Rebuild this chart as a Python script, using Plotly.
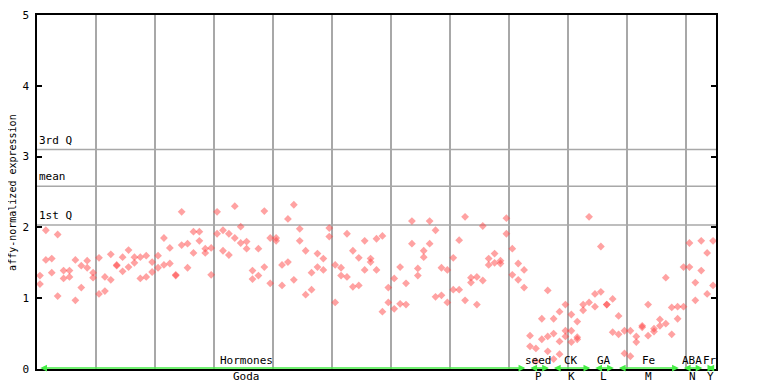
import plotly.graph_objects as go

# ---- data ----
rep_a = [1.32, 1.96, 1.56, 1.90, 1.39, 1.39, 1.54, 1.46, 1.53, 1.36,
         1.57, 1.30, 1.62, 1.46, 1.58, 1.68, 1.58, 1.58, 1.60, 1.51,
         1.60, 1.85, 1.71, 1.32, 2.22, 1.77, 1.94, 1.94, 1.70, 1.71,
         2.22, 1.96, 1.91, 2.30, 2.01, 1.80, 1.39, 1.70, 2.23, 1.85,
         1.85, 1.47, 2.12, 2.32, 1.98, 1.67, 1.36, 1.63, 1.56, 1.99,
         1.47, 1.43, 1.91, 1.67, 1.57, 1.81, 1.56, 1.84, 1.88, 1.15,
         1.28, 1.44, 1.21, 2.09, 1.42, 1.67, 2.09, 1.96, 1.43, 1.40,
         1.57, 1.82, 2.15, 1.29, 1.30, 2.02, 1.56, 1.63, 1.49, 2.13,
         1.70, 1.49, 1.40, 0.47, 0.29, 0.71, 1.11, 0.71, 0.81, 0.91,
         0.77, 0.67, 0.91, 2.15, 1.06, 1.73, 0.91, 0.99, 0.75, 0.54,
         0.54, 0.46, 0.61, 0.91, 0.57, 0.70, 1.29, 0.87, 0.88, 1.44,
         1.78, 1.22, 1.81, 1.64, 1.81]
rep_b = [1.20, 1.54, 1.36, 1.03, 1.28, 1.30, 0.97, 1.15, 1.43, 1.29,
         1.06, 1.10, 1.26, 1.47, 1.38, 1.44, 1.50, 1.28, 1.30, 1.37,
         1.43, 1.47, 1.49, 1.33, 1.75, 1.43, 1.64, 1.81, 1.64, 1.33,
         1.91, 1.67, 1.61, 1.85, 1.78, 1.70, 1.27, 1.32, 1.44, 1.21,
         1.81, 1.18, 1.51, 1.26, 1.81, 1.05, 1.12, 1.44, 1.40, 1.87,
         0.94, 1.32, 1.30, 1.16, 1.18, 1.40, 1.51, 1.40, 0.81, 0.94,
         0.85, 0.92, 0.91, 1.77, 1.32, 1.58, 1.77, 1.02, 1.04, 0.94,
         1.12, 1.12, 0.97, 1.22, 0.91, 1.25, 1.47, 1.50, 1.53, 1.91,
         1.33, 1.26, 1.15, 0.32, 0.11, 0.42, 0.46, 0.50, 0.39, 0.54,
         0.54, 0.45, 0.83, 0.94, 0.88, 1.09, 0.91, 0.52, 0.49, 0.22,
         0.18, 0.38, 0.59, 0.47, 0.53, 0.61, 0.64, 0.49, 0.71, 0.88,
         1.44, 0.97, 1.39, 1.06, 1.18]
rep_c_values = {86: 0.25, 87: 0.14, 88: 0.21, 89: 0.46, 90: 0.38, 91: 0.42}

n_samples = len(rep_a)
rep_c = [rep_c_values.get(i) for i in range(n_samples)]

q1_value = 2.035
mean_value = 2.58
q3_value = 3.10
ref_lines = [(q3_value, "3rd Q"), (mean_value, "mean"), (q1_value, "1st Q")]

group_names = ["Hormones", "seed", "CK", "GA", "Fe", "ABA", "Fr"]
group_codes = ["Goda", "P", "K", "L", "M", "N", "Y"]
group_start = [0, 83, 87, 94, 98, 109, 113]
group_end = [83, 87, 94, 98, 109, 113, 115]
group_label_at = [35.5, 85, 90.5, 96, 103.5, 111, 114]

y_ticks = [0, 1, 2, 3, 4, 5]

# ---- figure ----
FONT = "DejaVu Sans Mono"
marker_color = "rgba(255,70,70,0.5)"
x_pos = [i + 0.5 for i in range(n_samples)]

fig = go.Figure()
for series in (rep_a, rep_b, rep_c):
    fig.add_trace(go.Scatter(
        x=x_pos, y=series, mode="markers",
        marker=dict(symbol="diamond", size=6, color=marker_color, line=dict(width=0)),
        showlegend=False, hoverinfo="skip", cliponaxis=False))

shapes = []
annotations = []
for val, label in ref_lines:
    shapes.append(dict(type="line", xref="paper", x0=0, x1=1, yref="y", y0=val, y1=val,
                       line=dict(color="#a8a8a8", width=1.5), layer="below"))
    annotations.append(dict(xref="paper", x=0, yref="y", y=val, text=label, showarrow=False,
                            xanchor="left", yanchor="bottom", yshift=1,
                            font=dict(family=FONT, size=11, color="black")))

for name, code, s, e, c in zip(group_names, group_codes, group_start, group_end, group_label_at):
    annotations.append(dict(x=e - 0.3, y=0, ax=s + 0.3, ay=0, xref="x", yref="y",
                            axref="x", ayref="y", text="", showarrow=True,
                            arrowside="end+start", arrowhead=2, arrowsize=0.9,
                            arrowwidth=1.5, arrowcolor="#44ee44", yshift=1))
    annotations.append(dict(x=c, y=0, xref="x", yref="y", text=name, showarrow=False,
                            xanchor="center", yanchor="bottom", yshift=0,
                            font=dict(family=FONT, size=11, color="black")))
    annotations.append(dict(x=c, y=0, xref="x", yref="y", text=code, showarrow=False,
                            xanchor="center", yanchor="top", yshift=1,
                            font=dict(family=FONT, size=11, color="black")))

annotations.append(dict(xref="paper", yref="paper", x=-0.037, y=0.5, xanchor="center",
                        yanchor="middle", textangle=-90, showarrow=False,
                        text="affy-normalized expression",
                        font=dict(family=FONT, size=10, color="black")))

# page body has an 8px default margin, so the figure is offset by 8px
fig.update_layout(
    width=760, height=376,
    margin=dict(l=29, r=52, t=5, b=15),
    paper_bgcolor="white", plot_bgcolor="white",
    shapes=shapes, annotations=annotations,
    xaxis=dict(range=[0, n_samples], tick0=0, dtick=10, showticklabels=False,
               ticks="", showgrid=True, gridcolor="#a8a8a8", gridwidth=1.5,
               zeroline=False, showline=True, linecolor="black", linewidth=1.5,
               mirror=True, fixedrange=True),
    yaxis=dict(range=[0, 5], tickvals=y_ticks, ticktext=[str(t) for t in y_ticks],
               ticks="inside", ticklen=5, tickcolor="black", tickwidth=1.5,
               showgrid=False, zeroline=False, showline=True, linecolor="black",
               linewidth=1.5, mirror="ticks", automargin=False,
               tickfont=dict(family=FONT, size=11, color="black"),
               ticklabelstandoff=4),
)

fig.write_html("out.html")
